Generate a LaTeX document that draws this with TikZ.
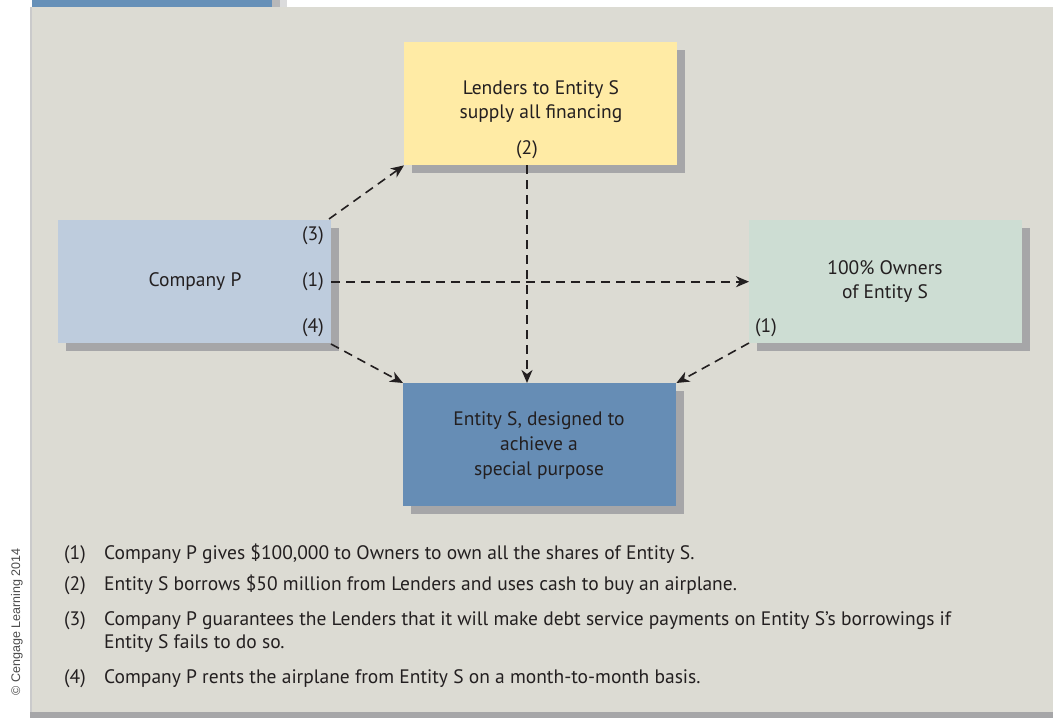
\documentclass[tikz,border=0pt]{standalone}
\usepackage{fontspec}
\setmainfont{PT Sans}
\newfontfamily\credfont{Liberation Sans}
\usetikzlibrary{arrows.meta,shadows}
\definecolor{panel}{HTML}{DCDBD3}
\definecolor{topbar}{HTML}{6690B8}
\definecolor{lendfill}{HTML}{FFEBA5}
\definecolor{compfill}{HTML}{BECCDD}
\definecolor{ownfill}{HTML}{CDDDD3}
\definecolor{entfill}{HTML}{668DB5}
\definecolor{shad}{HTML}{A6A6A8}
\definecolor{ink}{HTML}{231F20}
\begin{document}
\begin{tikzpicture}[x=1pt,y=-1pt,
  box/.style={draw=none, inner sep=0pt, anchor=north west, minimum width=273pt, minimum height=123pt,
    drop shadow={shadow xshift=8pt, shadow yshift=-8pt, fill=shad, opacity=1}},
  lbl/.style={text=ink, font=\fontsize{19.5}{24}\selectfont, inner sep=0pt},
  conn/.style={draw=ink, line width=1.6pt, dash pattern=on 9pt off 6pt, -{Stealth[length=13pt,width=11pt,inset=4pt]}},
  legend/.style={text=ink, font=\fontsize{19.5}{23}\selectfont, inner sep=0pt, anchor=base west}]
\useasboundingbox (0,0) rectangle (1053,718);
\fill[white] (0,0) rectangle (1053,718);
% panel with shadows
\fill[shad] (30,712) rectangle (1053,718);
\fill[shad!60] (30,7) rectangle (32,712);
\fill[panel] (32,7) rectangle (1053,712);
\fill[shad!80] (272,0) rectangle (280,7);
\fill[shad!40] (280,0) rectangle (287,7);
\fill[topbar] (32,0) rectangle (272,7);
% boxes
\node[box, fill=lendfill] (lend) at (404,42) {};
\node[box, fill=compfill] (comp) at (58,220) {};
\node[box, fill=ownfill] (own) at (749,220) {};
\node[box, fill=entfill] (ent) at (403,383) {};
% box texts
\node[lbl, align=center] (lendt) at (541,102) {Lenders to Entity S\\supply all financing};
\node[lbl] (l2) at (527,150) {(2)};
\node[lbl] (compt) at (195,282) {Company P};
\node[lbl] (c3) at (313,236) {(3)};
\node[lbl] (c1) at (313,282) {(1)};
\node[lbl] (c4) at (313,328) {(4)};
\node[lbl, align=center] (ownt) at (885,282) {100\% Owners\\of Entity S};
\node[lbl] (o1) at (766,328) {(1)};
\node[lbl, align=center, font=\fontsize{19.5}{25}\selectfont] (entt) at (539,446) {Entity S, designed to\\achieve a\\special purpose};
% connectors
\coordinate (c3s) at (329,219);
\coordinate (c4s) at (331,344);
\coordinate (o1s) at (749,343);
\draw[conn] (c3s) -- (lend.south west);
\draw[conn] (comp.east) -- (own.west);
\draw[conn] (c4s) -- (ent.north west);
\draw[conn] (lend.south -| l2) -- (ent.north -| l2);
\draw[conn] (o1s) -- (ent.north east);
% legend
\node[legend] (n1) at (64,559) {(1)};
\node[legend] (t1) at (104,559) {Company P gives \$100,000 to Owners to own all the shares of Entity S.};
\node[legend] (n2) at (64,590) {(2)};
\node[legend] (t2) at (104,590) {Entity S borrows \$50 million from Lenders and uses cash to buy an airplane.};
\node[legend] (n3) at (64,625) {(3)};
\node[legend] (t3) at (104,625) {Company P guarantees the Lenders that it will make debt service payments on Entity S’s borrowings if};
\node[legend] (t3b) at (104,648) {Entity S fails to do so.};
\node[legend] (n4) at (64,683) {(4)};
\node[legend] (t4) at (104,683) {Company P rents the airplane from Entity S on a month-to-month basis.};
% credit
\node[rotate=90, text=black!70, font=\credfont\fontsize{12.5}{14}\selectfont, inner sep=0pt] (cred) at (17,622) {© Cengage Learning 2014};
\end{tikzpicture}
\end{document}
